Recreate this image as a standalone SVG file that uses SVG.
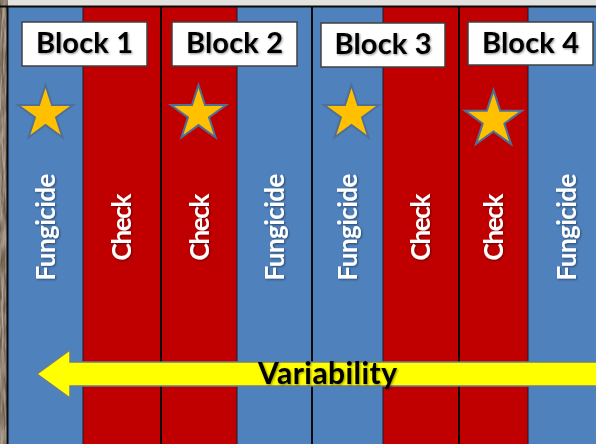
<svg xmlns="http://www.w3.org/2000/svg" width="596" height="444" viewBox="0 0 596 444">
  <style>
    .blue { fill: #4f81bd; }
    .red { fill: #c00000; }
    .sep-thin { stroke: #1a1a2a; stroke-width: 1; }
    .sep-thick { stroke: #0a0a0a; stroke-width: 2; }
    .blockbox { fill: #ffffff; stroke: #404040; stroke-width: 1.5; }
    .blocktxt { font-family: Lato, "Open Sans", "Liberation Sans", sans-serif; font-weight: 700; font-size: 29px; fill: #000000; text-anchor: middle; }
    .vtxt { font-family: Lato, "Open Sans", "Liberation Sans", sans-serif; font-weight: 700; font-size: 26px; fill: #ffffff; text-anchor: middle; }
    .star { fill: #ffc000; stroke: #4f6f96; stroke-width: 2; stroke-linejoin: miter; }
    .arrow { fill: #ffff00; stroke: #6b7d8e; stroke-width: 1.5; }
    .vartxt { font-family: Lato, "Open Sans", "Liberation Sans", sans-serif; font-weight: 700; font-size: 30px; fill: #000000; text-anchor: middle; }
  </style>
  <defs>
    <polygon id="star5" points="0,-29 6.51,-8.96 27.58,-8.96 10.54,3.42 17.05,23.46 0,11.08 -17.05,23.46 -10.54,3.42 -27.58,-8.96 -6.51,-8.96"/>
    <filter id="soft" x="-10%" y="-20%" width="120%" height="140%">
      <feGaussianBlur in="SourceAlpha" stdDeviation="0.8"/>
      <feOffset dx="1" dy="1" result="sh"/>
      <feComponentTransfer><feFuncA type="linear" slope="0.45"/></feComponentTransfer>
      <feMerge><feMergeNode/><feMergeNode in="SourceGraphic"/></feMerge>
    </filter>
    <filter id="grain" x="0" y="0" width="100%" height="100%">
      <feTurbulence type="fractalNoise" baseFrequency="0.5 0.04" numOctaves="3" seed="4" result="n"/>
      <feColorMatrix in="n" type="matrix" values="0 0 0 0 0.62  0 0 0 0 0.56  0 0 0 0 0.50  0 0 0 1.4 -0.35"/>
      <feComposite in2="SourceGraphic" operator="in"/>
    </filter>
  </defs>

  <!-- backdrop: pale top strip and wooden left edge -->
  <rect x="0" y="0" width="596" height="7" fill="#e4e2de"/>
  <rect x="0" y="0" width="8" height="444" fill="#6b5a48"/>
  <rect x="0" y="0" width="8" height="444" fill="#a89886" filter="url(#grain)"/>

  <!-- plot columns -->
  <g id="plots">
    <rect id="plot1" class="blue" x="8" y="7" width="75" height="437"/>
    <rect id="plot2" class="red" x="83" y="7" width="78" height="437"/>
    <rect id="plot3" class="red" x="161" y="7" width="76" height="437"/>
    <rect id="plot4" class="blue" x="237" y="7" width="75" height="437"/>
    <rect id="plot5" class="blue" x="312" y="7" width="71" height="437"/>
    <rect id="plot6" class="red" x="383" y="7" width="76" height="437"/>
    <rect id="plot7" class="red" x="459" y="7" width="69" height="437"/>
    <rect id="plot8" class="blue" x="528" y="7" width="68" height="437"/>
  </g>

  <!-- column borders -->
  <g id="borders">
    <line class="sep-thick" x1="0" y1="6.5" x2="596" y2="6.5"/>
    <line class="sep-thick" x1="7.5" y1="6" x2="7.5" y2="444"/>
    <line class="sep-thin" x1="83" y1="7" x2="83" y2="444"/>
    <line class="sep-thick" x1="161" y1="7" x2="161" y2="444"/>
    <line class="sep-thin" x1="237" y1="7" x2="237" y2="444"/>
    <line class="sep-thick" x1="312" y1="7" x2="312" y2="444"/>
    <line class="sep-thin" x1="383" y1="7" x2="383" y2="444"/>
    <line class="sep-thick" x1="459" y1="7" x2="459" y2="444"/>
    <line class="sep-thin" x1="528" y1="7" x2="528" y2="444"/>
  </g>

  <!-- block labels -->
  <g id="block1">
    <rect class="blockbox" x="22" y="22" width="125" height="44"/>
    <text class="blocktxt" x="84.5" y="53" textLength="97" filter="url(#soft)">Block 1</text>
  </g>
  <g id="block2">
    <rect class="blockbox" x="172" y="22" width="125" height="44"/>
    <text class="blocktxt" x="234.5" y="53" textLength="97" filter="url(#soft)">Block 2</text>
  </g>
  <g id="block3">
    <rect class="blockbox" x="321" y="23" width="124" height="44"/>
    <text class="blocktxt" x="383" y="54" textLength="97" filter="url(#soft)">Block 3</text>
  </g>
  <g id="block4">
    <rect class="blockbox" x="468" y="22" width="125" height="43"/>
    <text class="blocktxt" x="530.5" y="53" textLength="97" filter="url(#soft)">Block 4</text>
  </g>

  <!-- treated-plot stars -->
  <g id="stars">
    <use href="#star5" class="star" transform="translate(45.5,114)"/>
    <use href="#star5" class="star" transform="translate(198.5,114)"/>
    <use href="#star5" class="star" transform="translate(351.5,114)"/>
    <use href="#star5" class="star" transform="translate(493.5,120) scale(1.03)"/>
  </g>

  <!-- treatment names, reading upward -->
  <g id="treatments" filter="url(#soft)">
    <text class="vtxt" transform="translate(55,227) rotate(-90)" textLength="107">Fungicide</text>
    <text class="vtxt" transform="translate(131,227) rotate(-90)" textLength="67">Check</text>
    <text class="vtxt" transform="translate(209,227) rotate(-90)" textLength="67">Check</text>
    <text class="vtxt" transform="translate(284,227) rotate(-90)" textLength="107">Fungicide</text>
    <text class="vtxt" transform="translate(357,227) rotate(-90)" textLength="107">Fungicide</text>
    <text class="vtxt" transform="translate(430,227) rotate(-90)" textLength="67">Check</text>
    <text class="vtxt" transform="translate(503,227) rotate(-90)" textLength="67">Check</text>
    <text class="vtxt" transform="translate(576,227) rotate(-90)" textLength="107">Fungicide</text>
  </g>

  <!-- variability gradient arrow -->
  <g id="connectors">
    <polygon class="arrow" points="37,374 70,350 70,362 600,362 600,386 70,386 70,398"/>
    <text class="vartxt" x="327.5" y="384" textLength="139" filter="url(#soft)">Variability</text>
  </g>
</svg>
